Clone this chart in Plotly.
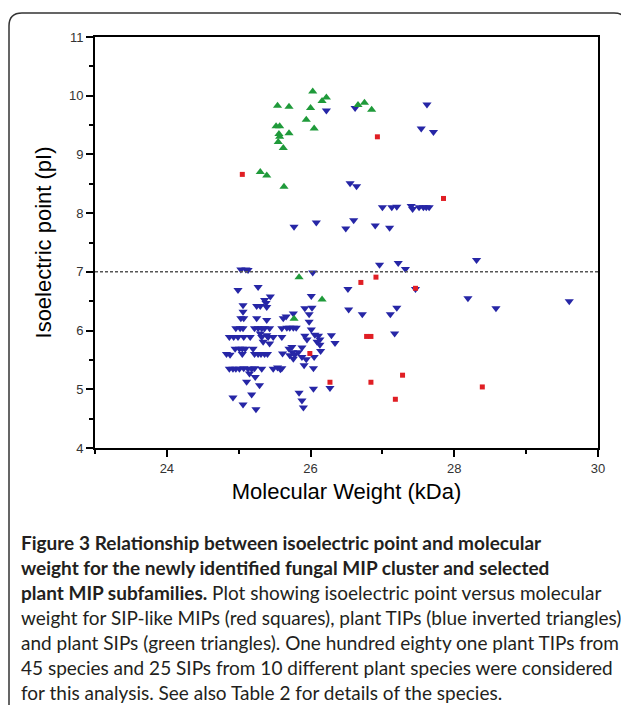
import plotly.graph_objects as go

# ---------------- data ----------------
sip_like_mw = [25.05, 26.93, 27.85, 25.99, 26.27, 26.70, 26.91, 27.46, 26.78, 26.84,
               26.84, 27.28, 27.18, 28.39]
sip_like_pi = [8.66, 9.30, 8.25, 5.61, 5.12, 6.82, 6.91, 6.72, 5.90, 5.90,
               5.12, 5.24, 4.83, 5.04]

plant_sip_mw = [25.54, 25.70, 26.03, 26.00, 26.16, 26.22, 25.94, 26.05, 25.52, 25.57,
                25.56, 25.57, 25.70, 25.55, 25.62, 25.30, 25.39, 25.63, 26.66, 26.75,
                26.85, 25.84, 26.16, 25.77]
plant_sip_pi = [9.83, 9.81, 10.07, 9.79, 9.91, 9.97, 9.59, 9.44, 9.48, 9.48,
                9.35, 9.30, 9.36, 9.21, 9.11, 8.70, 8.64, 8.45, 9.84, 9.88,
                9.76, 6.91, 6.53, 6.20]

plant_tip_mw = [
    26.22, 26.62, 27.62, 27.54, 27.71, 26.55, 26.64, 25.77, 26.08, 26.49,
    26.60, 26.90, 27.10, 27.00, 27.13, 27.20, 27.40, 27.42, 27.51, 27.57,
    27.61, 27.65, 28.31, 26.96, 27.22, 27.32, 26.52, 27.46, 28.19, 28.58,
    29.60, 26.53, 26.72, 27.11, 27.20, 27.17, 26.29, 26.34, 26.27,
    25.03, 25.10, 25.13, 24.99, 25.27, 25.44, 25.36, 25.38,
    25.06, 25.25, 25.30, 25.39, 25.06,
    25.03, 25.07, 25.25, 25.39, 25.62,
    24.96, 25.02, 25.06, 25.22, 25.27, 25.32, 25.36, 25.43, 25.60,
    25.30, 25.39,
    24.87, 24.93, 24.99, 25.07, 25.16, 25.32, 25.41, 25.48, 25.60,
    25.34, 25.43,
    24.95, 25.01, 25.05, 25.09, 25.20,
    24.83, 24.88, 25.05, 25.22, 25.27, 25.31, 25.36, 25.40,
    24.87, 24.92, 24.96, 25.01, 25.07, 25.13, 25.18, 25.22, 25.32, 25.48, 25.54, 25.58,
    25.15, 25.23, 25.11, 25.29, 25.18, 24.92, 25.06, 25.24,
    26.03, 26.01, 25.92, 26.02, 25.98, 25.66, 25.76,
    25.67, 25.71, 25.76, 25.80, 25.98, 26.01,
    26.06, 26.11, 26.13, 26.09, 26.13, 25.92, 25.95, 25.74, 25.88,
    25.70, 25.75, 25.71, 25.78, 25.76, 25.83, 25.88, 25.94, 25.91, 26.04,
    26.05, 26.14, 25.61, 25.60,
    26.04, 25.84, 25.88, 25.90,
]
plant_tip_pi = [
    9.75, 9.79, 9.85, 9.44, 9.38, 8.51, 8.46, 7.77, 7.84, 7.74,
    7.88, 7.79, 7.75, 8.10, 8.10, 8.11, 8.12, 8.07, 8.10, 8.10,
    8.10, 8.10, 7.20, 7.12, 7.15, 7.05, 6.71, 6.71, 6.55, 6.38,
    6.50, 6.36, 6.28, 6.28, 6.39, 5.95, 5.92, 5.79, 5.02,
    7.04, 7.04, 7.03, 6.69, 6.74, 6.58, 6.52, 6.47,
    6.43, 6.42, 6.42, 6.40, 6.32,
    6.21, 6.21, 6.21, 6.18, 6.21,
    6.04, 6.04, 6.04, 6.04, 6.04, 6.04, 6.04, 6.04, 6.04,
    5.95, 5.92,
    5.89, 5.89, 5.89, 5.89, 5.89, 5.89, 5.89, 5.89, 5.89,
    5.81, 5.78,
    5.69, 5.69, 5.69, 5.69, 5.69,
    5.60, 5.59, 5.60, 5.60, 5.60, 5.60, 5.60, 5.60,
    5.35, 5.35, 5.35, 5.35, 5.36, 5.35, 5.35, 5.36, 5.35, 5.35, 5.37, 5.34,
    5.27, 5.21, 5.13, 5.07, 4.91, 4.86, 4.74, 4.66,
    6.99, 6.59, 6.38, 6.39, 6.28, 6.24, 6.29,
    6.05, 6.05, 6.05, 6.05, 6.15, 6.02,
    5.93, 5.91, 5.85, 5.81, 5.76, 5.91, 5.85, 5.72, 5.71,
    5.69, 5.63, 5.58, 5.59, 5.52, 5.63, 5.55, 5.51, 5.41, 5.36,
    5.55, 5.65, 5.61, 5.36,
    5.01, 4.94, 4.81, 4.69,
]

threshold_pi = 7.0
x_range = [23, 30]
y_range = [4, 11]

caption_lines = [
    "<b>Figure 3</b> <b>Relationship between isoelectric point and molecular</b>",
    "<b>weight for the newly identified fungal MIP cluster and selected</b>",
    "<b>plant MIP subfamilies.</b> Plot showing isoelectric point versus molecular",
    "weight for SIP-like MIPs (red squares), plant TIPs (blue inverted triangles)",
    "and plant SIPs (green triangles). One hundred eighty one plant TIPs from",
    "45 species and 25 SIPs from 10 different plant species were considered",
    "for this analysis. See also Table 2 for details of the species.",
]

# ---------------- figure ----------------
# the page body adds an 8px offset, so the figure is 8px smaller than the window
OFF = 8
W, H = 629 - OFF, 705 - OFF
L, R, T, B = 95 - OFF, 598 - OFF, 37 - OFF, 448 - OFF  # plot area in pixels


def px_to_paper(px, py):
    return (px - OFF - L) / (R - L), (B - (py - OFF)) / (B - T)


fig = go.Figure()

fig.add_trace(go.Scatter(
    x=plant_tip_mw, y=plant_tip_pi, mode="markers", name="plant TIPs",
    marker=dict(symbol="triangle-down", size=8, color="#2626a6",
                line=dict(width=0)),
))
fig.add_trace(go.Scatter(
    x=plant_sip_mw, y=plant_sip_pi, mode="markers", name="plant SIPs",
    marker=dict(symbol="triangle-up", size=8, color="#1f9a3a",
                line=dict(width=0)),
))
fig.add_trace(go.Scatter(
    x=sip_like_mw, y=sip_like_pi, mode="markers", name="SIP-like MIPs",
    marker=dict(symbol="square", size=5, color="#e01e24",
                line=dict(width=0)),
))

# dashed reference line at pI = 7
fig.add_shape(type="line", xref="paper", yref="y", x0=0, x1=1,
              y0=threshold_pi, y1=threshold_pi,
              line=dict(color="#555555", width=1.5, dash="3px,2px"))

# rounded frame around figure + caption
fx0, fy0 = px_to_paper(9, 13)
fx1, fy1 = px_to_paper(627, 720)
rx, ry = 13 / (R - L), 13 / (B - T)
path = (f"M {fx0 + rx} {fy0} L {fx1 - rx} {fy0} Q {fx1} {fy0} {fx1} {fy0 - ry} "
        f"L {fx1} {fy1 + ry} Q {fx1} {fy1} {fx1 - rx} {fy1} "
        f"L {fx0 + rx} {fy1} Q {fx0} {fy1} {fx0} {fy1 + ry} "
        f"L {fx0} {fy0 - ry} Q {fx0} {fy0} {fx0 + rx} {fy0} Z")
fig.add_shape(type="path", xref="paper", yref="paper", path=path,
              line=dict(color="#333333", width=1.5), layer="below")

# caption lines
for i, line in enumerate(caption_lines):
    cx, cy = px_to_paper(19, 542 + 25 * i)
    fig.add_annotation(xref="paper", yref="paper", x=cx, y=cy,
                       xanchor="left", yanchor="middle", showarrow=False,
                       text=line,
                       font=dict(family="Lato", size=19, color="#231f20"))

axis_common = dict(
    showline=True, linecolor="black", linewidth=2, mirror=True,
    ticks="outside", tickcolor="black", tickwidth=2, ticklen=7,
    showgrid=False, zeroline=False,
    tickfont=dict(family="Liberation Sans", size=13, color="#333333"),
)

fig.update_xaxes(
    range=x_range, tick0=24, dtick=2,
    minor=dict(ticks="outside", dtick=1, tick0=23, ticklen=4,
               tickwidth=2, tickcolor="black", showgrid=False),
    title=dict(text="Molecular Weight (kDa)", standoff=9,
               font=dict(family="Liberation Sans", size=22, color="black")),
    **axis_common,
)
fig.update_yaxes(
    range=y_range, tick0=4, dtick=1,
    minor=dict(ticks="outside", dtick=0.5, tick0=4, ticklen=4,
               tickwidth=2, tickcolor="black", showgrid=False),
    title=dict(text="Isoelectric point (pI)", standoff=11,
               font=dict(family="Liberation Sans", size=22, color="black")),
    **axis_common,
)

fig.update_layout(
    width=W, height=H,
    margin=dict(l=L, r=W - R, t=T, b=H - B, autoexpand=False),
    paper_bgcolor="white", plot_bgcolor="white",
    showlegend=False,
)

fig.write_html("out.html")
